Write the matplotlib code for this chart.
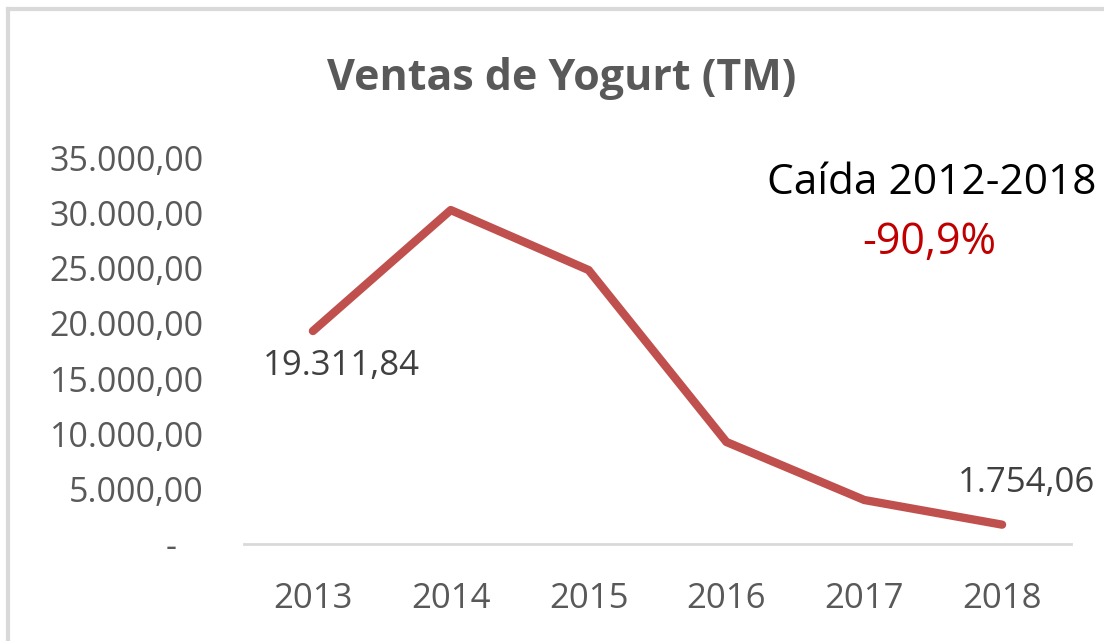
import matplotlib.pyplot as plt
from matplotlib.lines import Line2D

years = ["2013", "2014", "2015", "2016", "2017", "2018"]
ventas = [19311.84, 30280, 24840, 9250, 3990, 1754.06]
y_ticks = [0, 5000, 10000, 15000, 20000, 25000, 30000, 35000]
y_labels = ["-   ", "5.000,00", "10.000,00", "15.000,00", "20.000,00",
            "25.000,00", "30.000,00", "35.000,00"]

plt.rcParams['font.family'] = ['Open Sans', 'DejaVu Sans']

fig = plt.figure(figsize=(11.04, 6.41), dpi=100)
ax = fig.add_axes([244 / 1104, 1 - 544 / 641, (1071 - 244) / 1104, (544 - 158) / 641])

x = range(len(years))
ax.plot(x, ventas, color="#C0504D", lw=6, solid_capstyle="round", solid_joinstyle="round")

ax.set_xlim(-0.5, len(years) - 0.5)
ax.set_ylim(0, 35000)
ax.set_xticks(list(x))
ax.set_xticklabels(years, fontsize=25, color="#595959")
ax.set_yticks(y_ticks)
ax.set_yticklabels(y_labels, fontsize=24.5, color="#595959")
ax.tick_params(length=0)
ax.tick_params(axis="y", pad=29)
ax.tick_params(axis="x", pad=27)
for s in ["top", "right", "left"]:
    ax.spines[s].set_visible(False)
ax.spines["bottom"].set_color("#D9D9D9")
ax.spines["bottom"].set_linewidth(2)

# data labels on first and last point
ax.annotate("19.311,84", (0, ventas[0]), xytext=(-36, -25), textcoords="offset points",
            fontsize=25, color="#404040", va="center", ha="left")
ax.annotate("1.754,06", (5, ventas[-1]), xytext=(-32, 30), textcoords="offset points",
            fontsize=25, color="#404040", va="center", ha="left")

fig.text(562 / 1104, 1 - 78 / 641, "Ventas de Yogurt (TM)", fontsize=31, fontweight="bold",
         color="#595959", ha="center", va="center")
fig.text(932 / 1104, 1 - 183 / 641, "Caída 2012-2018", fontsize=30.5, color="black",
         ha="center", va="center")
fig.text(929 / 1104, 1 - 243 / 641, "-90,9%", fontsize=31, color="#C00000",
         ha="center", va="center")

# outer frame (top and left edges visible)
fig.add_artist(Line2D([8 / 1104, 1.02], [1 - 9 / 641] * 2, transform=fig.transFigure,
                      color="#D9D9D9", lw=3))
fig.add_artist(Line2D([8 / 1104] * 2, [-0.02, 1 - 9 / 641], transform=fig.transFigure,
                      color="#D9D9D9", lw=3))

plt.savefig("out.png", format="png", dpi=100)
